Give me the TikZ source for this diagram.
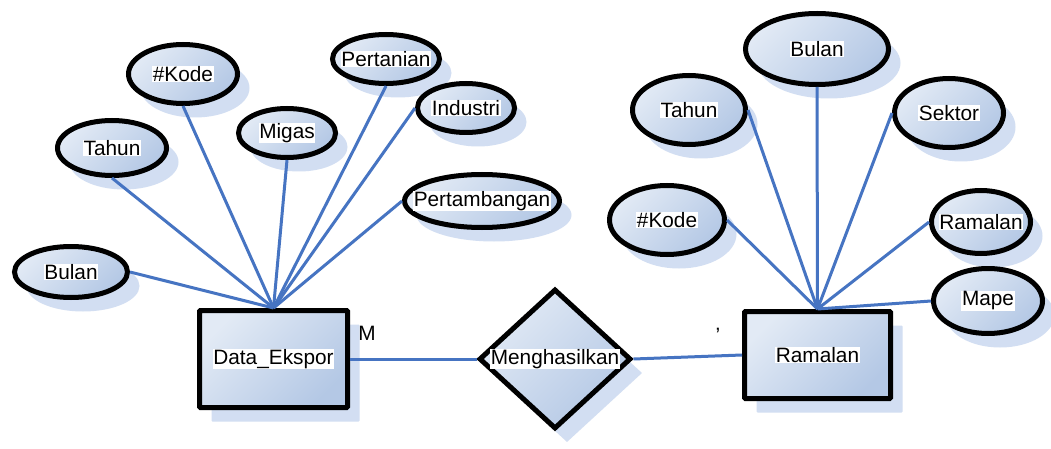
\documentclass[tikz,border=0pt]{standalone}
\usepackage{fontspec}
\setmainfont{Liberation Sans}
\usetikzlibrary{shapes.geometric,shadows}

\definecolor{gradlight}{RGB}{226,234,245}
\definecolor{graddark}{RGB}{180,200,229}
\definecolor{shadowblue}{RGB}{210,222,242}
\definecolor{linkblue}{RGB}{70,116,194}

\tikzset{
  shaded/.style={draw=black, line width=5pt, top color=gradlight, bottom color=graddark,
    shading angle=45,
    general shadow={fill=shadowblue, shadow xshift=12pt, shadow yshift=-14pt}},
  attr/.style={shaded, ellipse, inner sep=0pt},
  entity/.style={shaded, rectangle, inner sep=0pt, rounded corners=1pt},
  rel/.style={shaded, diamond, inner sep=0pt},
  txt/.style={fill=white, inner sep=0.6pt, font=\fontsize{20.8}{25}\selectfont},
  card/.style={inner sep=0pt, font=\fontsize{20.8}{25}\selectfont},
  conn/.style={draw=linkblue, line width=3pt},
}

\begin{document}
\begin{tikzpicture}[x=1pt,y=-1pt]
  \fill[white] (0,0) rectangle (1051,449);
  \useasboundingbox (0,0) rectangle (1051,449);

  % entities and relationship
  \node[entity, minimum width=148, minimum height=97] (de) at (273.5,359) {};
  \node[entity, minimum width=146, minimum height=87] (ra) at (817.5,355) {};
  \node[rel, minimum width=152, minimum height=140] (rel) at (555,359) {};

  % attributes of Data_Ekspor
  \node[attr, minimum width=113, minimum height=51] (lb) at (71,272) {};
  \node[attr, minimum width=109, minimum height=55] (lt) at (112,148) {};
  \node[attr, minimum width=109, minimum height=59] (lk) at (183,74) {};
  \node[attr, minimum width=97,  minimum height=49] (lm) at (287,133) {};
  \node[attr, minimum width=107, minimum height=49] (lp) at (386,59) {};
  \node[attr, minimum width=97,  minimum height=49] (li) at (466,108) {};
  \node[attr, minimum width=155, minimum height=53] (lg) at (482,201) {};

  % attributes of Ramalan
  \node[attr, minimum width=143, minimum height=71] (rb) at (817,49) {};
  \node[attr, minimum width=113, minimum height=69] (rt) at (689,110) {};
  \node[attr, minimum width=109, minimum height=69] (rs) at (949,113) {};
  \node[attr, minimum width=115, minimum height=69] (rk) at (667,220) {};
  \node[attr, minimum width=99,  minimum height=63] (rr) at (981,222) {};
  \node[attr, minimum width=109, minimum height=65] (rm) at (988,301) {};

  % connectors from attributes to their entities
  \foreach \a in {lb.east,lt.south,lk.south,lm.south,lp.south,li.west,lg.west}
    \draw[conn] (\a) -- (de.north);
  \foreach \a in {rb.south,rt.east,rs.west,rk.east,rr.west,rm.west}
    \draw[conn] (\a) -- (ra.north);
  \draw[conn] (de.east) -- (rel.west);
  \draw[conn] (rel.east) -- (ra.west);

  % labels
  \node[txt] (tde) at (de) {Data\_Ekspor};
  \node[txt] (tra) at (ra) {Ramalan};
  \node[txt] (trel) at (rel) {Menghasilkan};
  \node[txt] (tlb) at (lb) {Bulan};
  \node[txt] (tlt) at (lt) {Tahun};
  \node[txt] (tlk) at (lk) {\#Kode};
  \node[txt] (tlm) at (lm) {Migas};
  \node[txt] (tlp) at (lp) {Pertanian};
  \node[txt] (tli) at (li) {Industri};
  \node[txt] (tlg) at (lg) {Pertambangan};
  \node[txt] (trb) at (rb) {Bulan};
  \node[txt] (trt) at (rt) {Tahun};
  \node[txt] (trs) at (rs) {Sektor};
  \node[txt] (trk) at (rk) {\#Kode};
  \node[txt] (trr) at (rr) {Ramalan};
  \node[txt] (trm) at (rm) {Mape};

  % cardinalities
  \node[card] (cm) at (367,333) {M};
  \node[card] (c1) at (718,335) {’};
\end{tikzpicture}
\end{document}
